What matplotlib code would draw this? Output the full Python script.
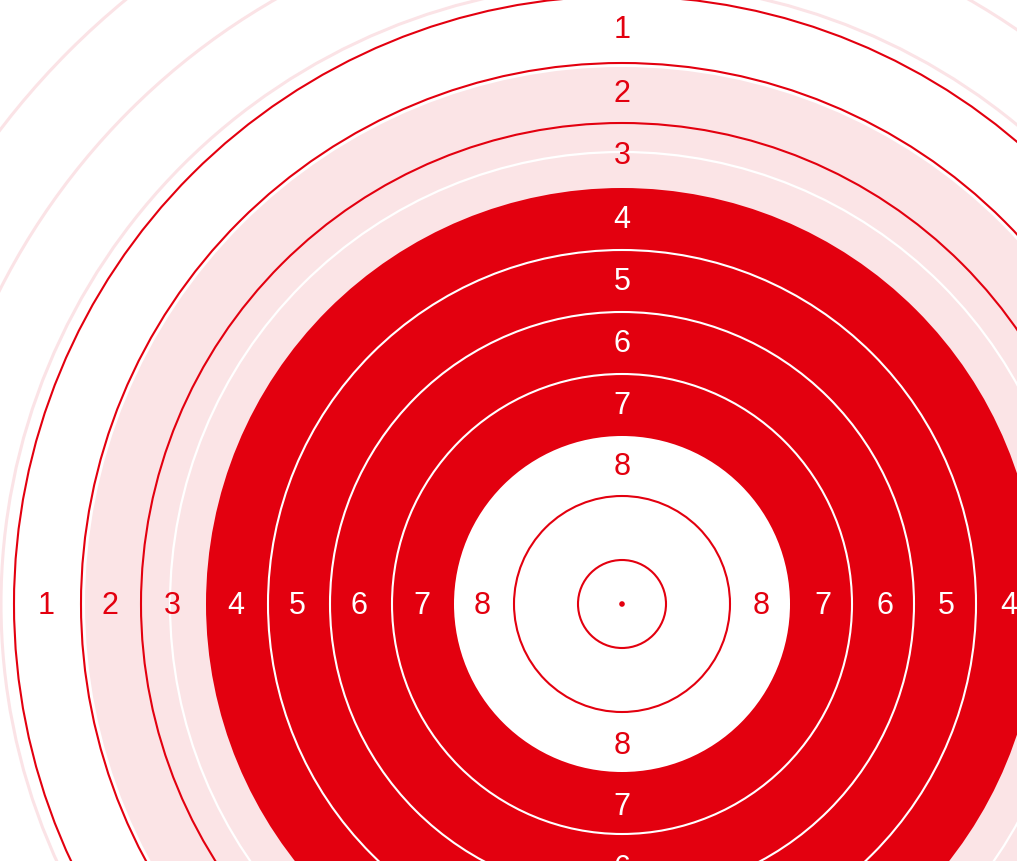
import matplotlib
matplotlib.use("Agg")
import matplotlib.pyplot as plt
from matplotlib.patches import Circle

# ---- data ----
ring_scores = [1, 2, 3, 4, 5, 6, 7, 8]
# outer boundary radius of each score ring (score 1..8), then inner rings 9 and 10
ring_outer = [608, 541, 481, 416, 354, 292, 230, 168]
inner_rings = [108, 44]
pink_radius = 537
pink_white_line = 452
faint_circles = [621, 697, 782]
label_colors = ["#e3000f", "#e3000f", "#e3000f", "white", "white", "white", "white", "#e3000f"]

RED = "#e3000f"
PINK = "#fbe4e6"
FAINT = "#fbe3e6"

W, H = 1017, 861
cx, cy = 622, 604

fig = plt.figure(figsize=(W / 100, H / 100), dpi=100)
ax = fig.add_axes([0, 0, 1, 1])
ax.set_xlim(-cx, W - cx)
ax.set_ylim(H - cy, -cy)
ax.set_aspect("equal")
ax.axis("off")

for r in faint_circles:
    ax.add_patch(Circle((0, 0), r, fill=False, ec=FAINT, lw=2.2))

ax.add_patch(Circle((0, 0), ring_outer[0], fill=False, ec=RED, lw=1.5))
ax.add_patch(Circle((0, 0), ring_outer[1], fill=False, ec=RED, lw=1.5))
ax.add_patch(Circle((0, 0), pink_radius, fc=PINK, ec="none"))
ax.add_patch(Circle((0, 0), ring_outer[2], fill=False, ec=RED, lw=1.5))
ax.add_patch(Circle((0, 0), pink_white_line, fill=False, ec="white", lw=1.6))
ax.add_patch(Circle((0, 0), ring_outer[3], fc=RED, ec="none"))
for r in ring_outer[4:7]:
    ax.add_patch(Circle((0, 0), r, fill=False, ec="white", lw=1.5))
ax.add_patch(Circle((0, 0), ring_outer[7], fc="white", ec="none"))
for r in inner_rings:
    ax.add_patch(Circle((0, 0), r, fill=False, ec=RED, lw=1.5))
ax.add_patch(Circle((0, 0), 2.8, fc=RED, ec="none"))

# labels at ring midpoints in four directions
bounds = ring_outer + [inner_rings[0]]
for i, s in enumerate(ring_scores):
    mid = (bounds[i] + bounds[i + 1]) / 2 + 1.5
    for dx, dy in [(0, -1), (0, 1), (-1, 0), (1, 0)]:
        ax.text(dx * mid, dy * mid + 2.5, str(s), ha="center", va="center",
                color=label_colors[i], fontsize=22, family="Liberation Sans")

fig.savefig("out.png", dpi=100)
